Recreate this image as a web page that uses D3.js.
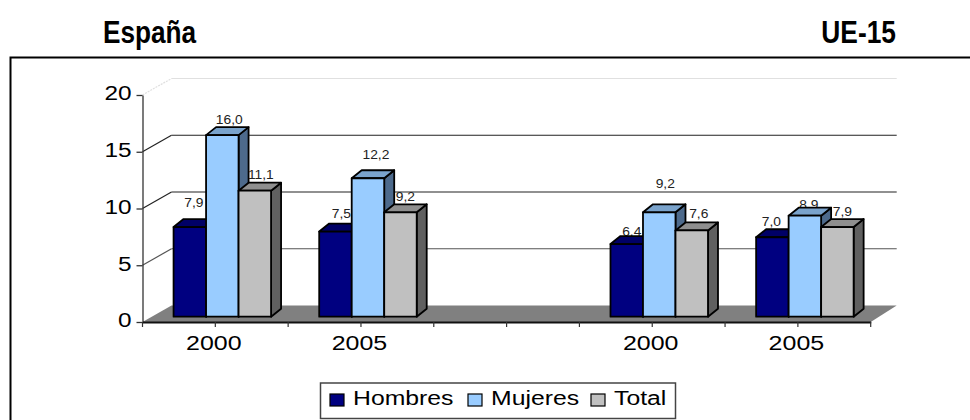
<!DOCTYPE html>
<html>
<head>
<meta charset="utf-8">
<script src="https://cdn.jsdelivr.net/npm/d3@7"></script>
<style>
html, body { margin: 0; padding: 0; background: #fff; overflow: hidden; }
text { font-family: "Liberation Sans", Arial, sans-serif; fill: #000; }
.head { font-weight: bold; font-size: 31px; }
</style>
</head>
<body>
<svg id="chart" width="970" height="420"></svg>
<script>
/* --- Data: --- */
var categories = ["2000", "2005", "", "2000", "2005"];
var series_names = ["Hombres", "Mujeres", "Total"];
var hombres = [7.9, 7.5, null, 6.4, 7.0];
var mujeres = [16.0, 12.2, null, 9.2, 8.9];
var total = [11.1, 9.2, null, 7.6, 7.9];
var y_ticks = [0, 5, 10, 15, 20];

/* --- Styles and layout: --- */
var front_colors = ["#000080", "#99ccff", "#c0c0c0"];
var top_colors = ["#000066", "#7aa3cc", "#8f8f8f"];
var side_colors = ["#000050", "#4d6a8c", "#606060"];

// the wall sits this far behind the axis plane, the bars a bit less
var wall_dx = 29, wall_dy = -16.5;
var bar_shift_x = 7, bar_shift_y = -5.3;
var bar_dx = 10, bar_dy = -8;

// excel put the labels by hand-ish spots, so [dx, lift] per bar
var label_nudge = [
    [[4, 20], [7, 11], [6, 12]],
    [[6, 14], [8, 19], [5, 11]],
    null,
    [[5, 8], [6, 24], [7, 12]],
    [[-1, 11], [4, 7], [5, 11]]
];

var svg = d3.select("#chart");

var x = d3.scaleBand().domain(d3.range(categories.length)).range([142.5, 870.7]);
var y = d3.scaleLinear().domain([0, 20]).range([322, 95]);
var bar_w = 32.5;
var group_left = i => x(i) + (x.bandwidth() - bar_w * 3) / 2 + bar_shift_x;

// stretch text sideways, the original is a resized picture
function stretch(sel, k) {
    sel.each(function () {
        this.setAttribute("textLength", this.getComputedTextLength() * k);
        this.setAttribute("lengthAdjust", "spacingAndGlyphs");
    });
}

/* --- Titles and frame: --- */
svg.append("path")
    .attr("d", "M980,57.5H10.5V430")
    .attr("fill", "none").attr("stroke", "#000").attr("stroke-width", 2);

svg.append("text").attr("class", "head").attr("x", 103).attr("y", 43).text("España").call(stretch, 0.845);
svg.append("text").attr("class", "head").attr("x", 896).attr("y", 43).attr("text-anchor", "end").text("UE-15").call(stretch, 0.85);

/* --- Walls and floor: --- */
var x0 = x.range()[0], x1 = x.range()[1];

svg.append("path")
    .attr("d", d3.line()([[x0, y(0)], [x1, y(0)], [x1 + wall_dx - 3, y(0) + wall_dy], [x0 + wall_dx, y(0) + wall_dy]]))
    .attr("fill", "#808080");

var grid = svg.append("g").selectAll("g").data(y_ticks.filter(d => d > 0)).join("g")
    .attr("fill", "none")
    .attr("stroke", d => d == 20 ? "#e0e0e0" : (d == 5 ? "#555" : "#222"))
    .attr("stroke-width", 1.2);
grid.append("line")
    .attr("x1", x0).attr("y1", d => y(d))
    .attr("x2", x0 + wall_dx).attr("y2", d => y(d) + wall_dy)
    .attr("stroke-dasharray", d => d == 20 ? "2,1" : null);
grid.append("line")
    .attr("x1", x0 + wall_dx).attr("y1", d => y(d) + wall_dy)
    .attr("x2", x1 + wall_dx - 3).attr("y2", d => y(d) + wall_dy);

/* --- Data labels go under the bars, bars hide part of some: --- */
var all_values = [hombres, mujeres, total];
var bar_rows = [];
all_values.forEach(function (vals, s) {
    vals.forEach(function (v, i) {
        if (v !== null) bar_rows.push({ s: s, i: i, v: v });
    });
});
var bar_base = y(0) + bar_shift_y;
var bar_top = d => y(d.v) + bar_shift_y;
var bar_left = d => group_left(d.i) + d.s * bar_w;

svg.append("g").selectAll("text").data(bar_rows).join("text")
    .attr("text-anchor", "middle")
    .attr("font-size", 12)
    .style("fill", "#222")
    .attr("x", d => bar_left(d) + bar_w / 2 + label_nudge[d.i][d.s][0])
    .attr("y", d => bar_top(d) - label_nudge[d.i][d.s][1])
    .text(d => d.v.toFixed(1).replace(".", ","))
    .call(stretch, 1.15);

/* --- 3d bars: --- */
var bars = svg.append("g").selectAll("g").data(bar_rows).join("g")
    .attr("stroke", "#000").attr("stroke-width", 1.8).attr("stroke-linejoin", "round");
var poly = d3.line();

bars.append("path")
    .attr("fill", d => side_colors[d.s])
    .attr("d", d => poly([
        [bar_left(d) + bar_w, bar_top(d)],
        [bar_left(d) + bar_w + bar_dx, bar_top(d) + bar_dy],
        [bar_left(d) + bar_w + bar_dx, bar_base + bar_dy],
        [bar_left(d) + bar_w, bar_base]]) + "Z");
bars.append("path")
    .attr("fill", d => top_colors[d.s])
    .attr("d", d => poly([
        [bar_left(d), bar_top(d)],
        [bar_left(d) + bar_dx, bar_top(d) + bar_dy],
        [bar_left(d) + bar_w + bar_dx, bar_top(d) + bar_dy],
        [bar_left(d) + bar_w, bar_top(d)]]) + "Z");
bars.append("rect")
    .attr("fill", d => front_colors[d.s])
    .attr("x", bar_left)
    .attr("y", bar_top)
    .attr("width", bar_w)
    .attr("height", d => bar_base - bar_top(d));

/* --- Axes: --- */
var y_axis = svg.append("g")
    .attr("transform", "translate(" + x0 + ",0)")
    .call(d3.axisLeft(y).tickValues(y_ticks).tickSize(6).tickSizeOuter(0).tickPadding(5));
y_axis.selectAll("path, line").attr("stroke", "#333").attr("stroke-width", 1.3);
y_axis.selectAll("text").attr("font-size", 19.5).attr("font-family", "Liberation Sans").attr("dy", "0.25em").call(stretch, 1.25);

var x_axis = svg.append("g")
    .attr("transform", "translate(0," + y(0) + ")")
    .call(d3.axisBottom(x).tickFormat(i => categories[i]).tickSize(5).tickSizeOuter(0).tickPadding(9));
x_axis.select("path").attr("stroke", "#111").attr("stroke-width", 2);
x_axis.selectAll("line").attr("stroke", "#333").attr("stroke-width", 1.2);
x_axis.selectAll("text").attr("font-size", 19.5).attr("font-family", "Liberation Sans").attr("dx", -1.5).call(stretch, 1.28);

// the axis also has ticks between the categories
svg.append("g").selectAll("line").data(d3.range(categories.length + 1)).join("line")
    .attr("x1", i => x0 + i * x.step()).attr("x2", i => x0 + i * x.step())
    .attr("y1", y(0)).attr("y2", y(0) + 5)
    .attr("stroke", "#333").attr("stroke-width", 1.2);

/* --- Legend: --- */
svg.append("rect")
    .attr("x", 320.5).attr("y", 383).attr("width", 355).attr("height", 35.5)
    .attr("fill", "#fff").attr("stroke", "#444").attr("stroke-width", 1.5);

var swatch_x = [330, 468, 591];
var legend = svg.append("g").selectAll("g").data(series_names).join("g")
    .attr("transform", (d, i) => "translate(" + swatch_x[i] + ",394)");
legend.append("rect")
    .attr("width", 14).attr("height", 12)
    .attr("fill", (d, i) => front_colors[i])
    .attr("stroke", "#000").attr("stroke-width", 1.2);
legend.append("text")
    .attr("x", 23).attr("y", 11)
    .attr("font-size", 19.5)
    .text(d => d)
    .call(stretch, 1.27);
</script>
</body>
</html>
